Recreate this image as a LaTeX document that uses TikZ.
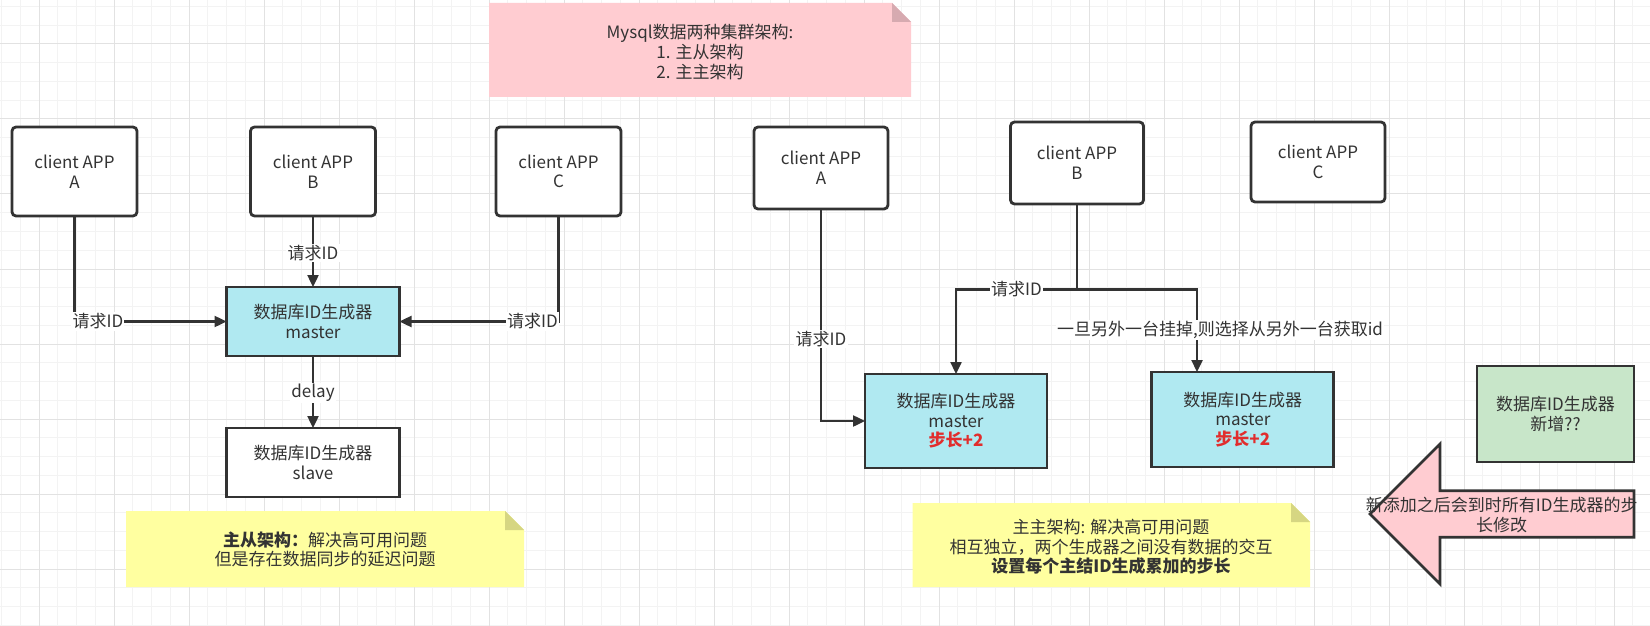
\documentclass[tikz,border=0pt]{standalone}
\usepackage{fontspec}
\setmainfont{Noto Sans CJK SC}
\usetikzlibrary{arrows.meta}
\definecolor{ink}{HTML}{333333}
\definecolor{cyanfill}{RGB}{176,233,241}
\definecolor{greenfill}{RGB}{200,230,201}
\definecolor{pinkfill}{RGB}{255,204,209}
\definecolor{pinkfold}{RGB}{214,170,176}
\definecolor{yellowfill}{RGB}{255,255,160}
\definecolor{yellowfold}{RGB}{214,214,130}
\definecolor{redtxt}{RGB}{225,45,45}
\definecolor{gridminor}{RGB}{243,243,243}
\definecolor{gridmajor}{RGB}{226,226,226}
\begin{document}
\begin{tikzpicture}[x=0.5pt,y=-0.5pt,
  font=\fontsize{8.5pt}{9.8pt}\selectfont, text=ink,
  box/.style={draw=ink, line width=1.4pt, inner sep=0pt, outer sep=0pt, align=center},
  client/.style={box, rounded corners=2pt, fill=white},
  conn/.style={draw=ink, line width=1.2pt, -{Triangle[length=6pt,width=5.5pt]}},
  plainline/.style={draw=ink, line width=1.2pt},
  lbl/.style={fill=white, inner sep=0.6pt, text=ink},
  notetext/.style={align=center, inner sep=0pt}
]
% background and grid
\fill[white] (0,0) rectangle (1650,626);
\useasboundingbox (0,0) rectangle (1650,626);
\foreach \xx in {1.5,20.25,...,1650} \draw[gridminor,line width=0.5pt] (\xx,0) -- (\xx,626);
\foreach \yy in {6.5,25.25,...,626} \draw[gridminor,line width=0.5pt] (0,\yy) -- (1650,\yy);
\foreach \xx in {39,114,...,1650} \draw[gridmajor,line width=0.5pt] (\xx,0) -- (\xx,626);
\foreach \yy in {44,119,...,626} \draw[gridmajor,line width=0.5pt] (0,\yy) -- (1650,\yy);

% pink title note
\fill[pinkfill] (489,3) -- (892,3) -- (911,22) -- (911,97) -- (489,97) -- cycle;
\fill[pinkfold] (892,3) -- (892,22) -- (911,22) -- cycle;
\node[notetext] (title) at (700,52) {Mysql数据两种集群架构:\\1. 主从架构\\2. 主主架构};

% ---------- left: master/slave ----------
\node[client, minimum width=62.5pt, minimum height=44.5pt] (A) at (74.5,171.5) {client APP\\A};
\node[client, minimum width=62.5pt, minimum height=44.5pt] (B) at (313,171.5) {client APP\\B};
\node[client, minimum width=62.5pt, minimum height=44.5pt] (C) at (558.5,171.5) {client APP\\C};
\node[box, fill=cyanfill, minimum width=86.5pt, minimum height=34.5pt] (M) at (313,321.5) {数据库ID生成器\\master};
\node[box, fill=white, minimum width=86.5pt, minimum height=34.5pt] (S) at (313,462.5) {数据库ID生成器\\slave};

\draw[conn] (A.south) |- (M.west) node[lbl, pos=0.577] (lA) {请求ID};
\draw[conn] (B.south) -- (M.north) node[lbl, pos=0.517] (lB) {请求ID};
\draw[conn] (C.south) |- (M.east) node[lbl, pos=0.582] (lC) {请求ID};
\draw[conn] (M.south) -- (S.north) node[lbl, pos=0.51] (lD) {delay};

\fill[yellowfill] (126,511) -- (505,511) -- (524,530) -- (524,587) -- (126,587) -- cycle;
\fill[yellowfold] (505,511) -- (505,530) -- (524,530) -- cycle;
\node[notetext] (noteL) at (325,549.5) {\textbf{主从架构：}解决高可用问题\\但是存在数据同步的延迟问题};

% ---------- right: master/master ----------
\node[client, minimum width=67pt, minimum height=41pt] (A2) at (821,168) {client APP\\A};
\node[client, minimum width=66.5pt, minimum height=41pt] (B2) at (1077,163) {client APP\\B};
\node[client, minimum width=67pt, minimum height=40pt] (C2) at (1318,162) {client APP\\C};
\node[box, fill=cyanfill, minimum width=91pt, minimum height=47pt] (M1) at (956,421) {数据库ID生成器\\master\\{\color{redtxt}\bfseries 步长+2}};
\node[box, fill=cyanfill, minimum width=91pt, minimum height=47.5pt] (M2) at (1242.8,419.5) {数据库ID生成器\\master\\{\color{redtxt}\bfseries 步长+2}};
\node[box, fill=greenfill, minimum width=78.5pt, minimum height=48pt] (G) at (1555.5,414) {数据库ID生成器\\新增??};

\coordinate (J) at (1077,289.3);
\coordinate (J2) at (1197,289.3);
\draw[conn] (A2.south) |- (M1.west) node[lbl, pos=0.307] (lA2) {请求ID};
\draw[plainline] (B2.south) -- (J);
\draw[conn] (J) -| (M1.north);
\draw[conn] (J) -- (J2) -- (J2 |- M2.north);
\node[lbl] (lB2) at (1016.5,289.3) {请求ID};
\node[lbl] (lJ) at (1220,330) {一旦另外一台挂掉,则选择从另外一台获取id};

\fill[yellowfill] (912.7,503) -- (1291,503) -- (1310,522) -- (1310,587) -- (912.7,587) -- cycle;
\fill[yellowfold] (1291,503) -- (1291,522) -- (1310,522) -- cycle;
\node[notetext] (noteR) at (1111,547) {主主架构: 解决高可用问题\\相互独立，两个生成器之间没有数据的交互\\\textbf{设置每个主结ID生成累加的步长}};

% big pink arrow
\draw[draw=ink, line width=1.4pt, fill=pinkfill, line join=miter]
  (1634,490.7) -- (1440,490.7) -- (1440,444) -- (1370,514) -- (1440,584) -- (1440,537.3) -- (1634,537.3) -- cycle;
\node[notetext] (arrowtext) at (1501.7,515) {新添加之后会到时所有ID生成器的步\\长修改};
\end{tikzpicture}
\end{document}
